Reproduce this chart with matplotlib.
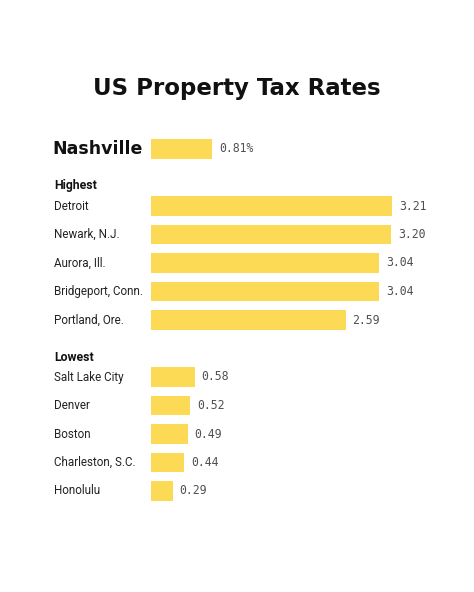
import matplotlib.pyplot as plt
import matplotlib.transforms as mtransforms

# data
nash_label = "Nashville"
nash_rate = 0.81

high_cities = ["Detroit", "Newark, N.J.", "Aurora, Ill.", "Bridgeport, Conn.", "Portland, Ore."]
high_rates = [3.21, 3.20, 3.04, 3.04, 2.59]

low_cities = ["Salt Lake City", "Denver", "Boston", "Charleston, S.C.", "Honolulu"]
low_rates = [0.58, 0.52, 0.49, 0.44, 0.29]

W, H = 474, 592
fig = plt.figure(figsize=(W / 100, H / 100), dpi=100)
fig.patch.set_facecolor("white")

# axes placed so that the rows land where the reference has them
x0 = 151          # pixel of zero
px_per_unit = 75.1
row_top = 149     # pixel centre of row 0
step = 28.5
y_top = row_top - 0.5 * step
y_bot = row_top + 12.5 * step
ax = fig.add_axes([x0 / W, 1 - y_bot / H, 1 - x0 / W, (y_bot - y_top) / H])
ax.set_xlim(0, (W - x0) / px_per_unit)
ax.set_ylim(12.5, -0.5)
ax.axis("off")

yellow = "#FDDA55"
bar_h = 0.7
val_kw = dict(family="DejaVu Sans Mono", fontsize=8.3, color="#505050", va="center", ha="left")
lab_kw = dict(family="Roboto", fontsize=8.4, color="#222222", va="center", ha="left")
head_kw = dict(family="Roboto", fontsize=8.8, fontweight="bold", color="#111111",
               va="center", ha="left")
lab_tr = mtransforms.blended_transform_factory(fig.transFigure, ax.transData)
gap = mtransforms.offset_copy(ax.transData, fig=fig, x=5, y=0, units="points")

# Nashville row
ax.barh(0, nash_rate, height=bar_h, color=yellow)
ax.text(nash_rate, 0, f"{nash_rate:.2f}%", transform=gap, **val_kw)
ax.text(52 / W, 0, nash_label, transform=lab_tr, family="DejaVu Sans", fontsize=12.5,
        fontweight="bold", color="#111111", va="center", ha="left")

# Highest block
ax.text(54 / W, 1.27, "Highest", transform=lab_tr, **head_kw)
hy = [2 + i for i in range(len(high_cities))]
ax.barh(hy, high_rates, height=bar_h, color=yellow)
for y, c, v in zip(hy, high_cities, high_rates):
    ax.text(54 / W, y, c, transform=lab_tr, **lab_kw)
    ax.text(v, y, f"{v:.2f}", transform=gap, **val_kw)

# Lowest block
ax.text(54 / W, 7.3, "Lowest", transform=lab_tr, **head_kw)
ly = [8 + i for i in range(len(low_cities))]
ax.barh(ly, low_rates, height=bar_h, color=yellow)
for y, c, v in zip(ly, low_cities, low_rates):
    ax.text(54 / W, y, c, transform=lab_tr, **lab_kw)
    ax.text(v, y, f"{v:.2f}", transform=gap, **val_kw)

fig.text(237 / W, 1 - 89 / H, "US Property Tax Rates", family="DejaVu Sans", fontsize=16.5,
         fontweight="bold", color="#111111", ha="center", va="center")

fig.savefig("out.png", dpi=100, facecolor="white")
